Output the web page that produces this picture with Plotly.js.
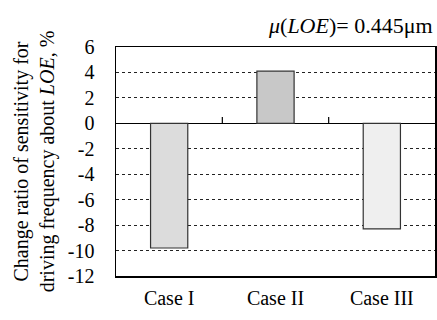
<!DOCTYPE html>
<html>
<head>
<meta charset="utf-8">
<script src="https://cdn.plot.ly/plotly-3.0.1.min.js"></script>
<style>html,body{margin:0;padding:0;background:#fff;}#chart{width:437px;height:320px;}</style>
</head>
<body>
<div id="chart"></div>
<script>
const categories = ["Case I", "Case II", "Case III"];
const values = [-9.8, 4.1, -8.3];
const barColors = ["#dcdcdc", "#c8c8c8", "#efefef"];
const yTicks = [6, 4, 2, 0, -2, -4, -6, -8, -10, -12];
const boundaryTicks = [0.5, 1.5];

const font = {family: "Liberation Serif", size: 20, color: "#000"};
const yMin = -12, yMax = 6;

const data = [{
  type: "bar",
  x: [0, 1, 2],
  y: values,
  marker: {color: barColors, line: {color: "#333", width: 1.2}},
  width: 0.35,
  hoverinfo: "none"
}];

const layout = {
  width: 437, height: 320,
  margin: {l: 116, r: 2, t: 47, b: 44},
  paper_bgcolor: "#fff", plot_bgcolor: "#fff",
  font: font,
  showlegend: false,
  xaxis: {
    range: [-0.5, 2.5],
    tickvals: [0, 1, 2],
    ticktext: categories,
    ticks: "",
    showgrid: false,
    zeroline: false,
    showline: true, mirror: true, linecolor: "#000", linewidth: 1.5,
    tickfont: font,
    ticklabelstandoff: 3
  },
  yaxis: {
    range: [yMin, yMax],
    tickvals: yTicks,
    ticktext: yTicks.map(String),
    ticks: "",
    showgrid: true, gridcolor: "#222", griddash: "dot", gridwidth: 1,
    zeroline: true, zerolinecolor: "#000", zerolinewidth: 1.5,
    showline: true, mirror: true, linecolor: "#000", linewidth: 1.5,
    tickfont: font,
    ticklabelstandoff: 16,
    title: {text: "Change ratio of sensitivity for<br>driving frequency about <i>LOE</i>, %", font: font, standoff: 8}
  },
  shapes: boundaryTicks.map(b => ({
    type: "line", xref: "x", yref: "y", x0: b, x1: b, y0: 0, y1: 0.5,
    line: {color: "#000", width: 1.2}
  })),
  annotations: [{
    xref: "paper", yref: "paper", x: 1, y: 1.03, xanchor: "right", yanchor: "bottom",
    text: "<i>μ</i>(<i>LOE</i>)= 0.445μm", showarrow: false, font: {family: "Liberation Serif", size: 22, color: "#000"}
  }]
};

Plotly.newPlot("chart", data, layout, {displayModeBar: false, staticPlot: true});
</script>
</body>
</html>
